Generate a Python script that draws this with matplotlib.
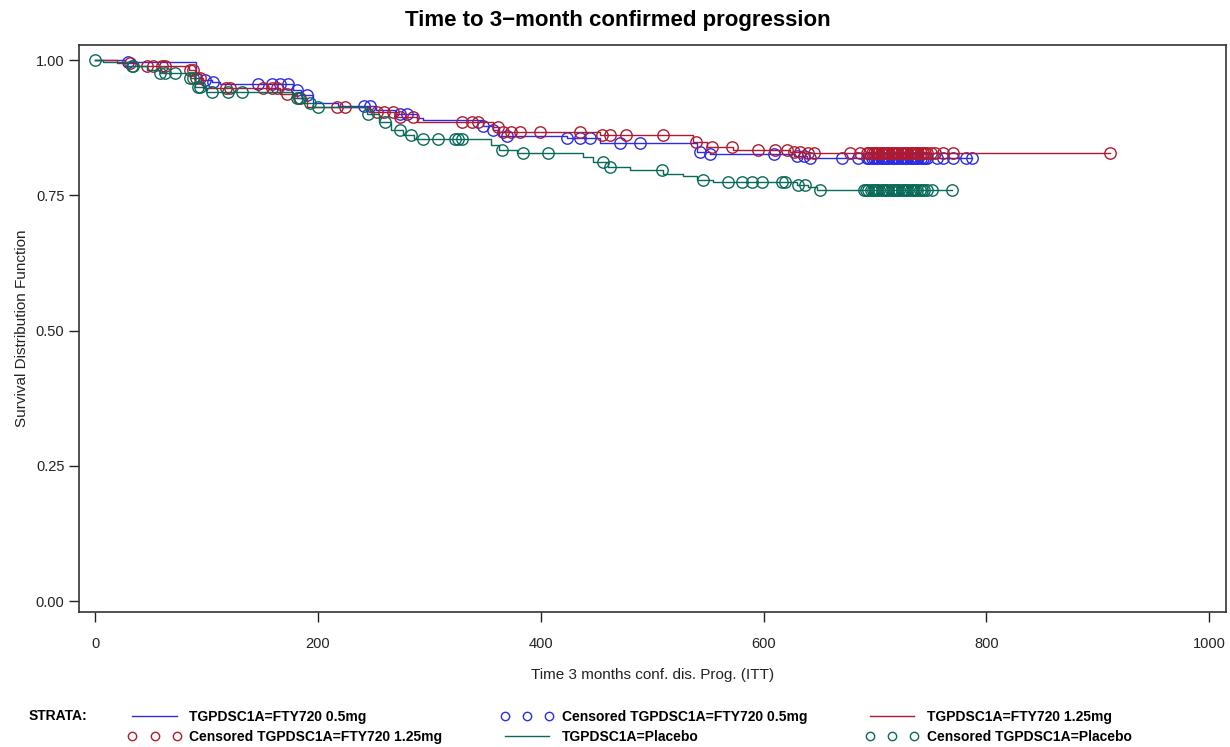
import numpy as np
import matplotlib
matplotlib.use("Agg")
import matplotlib.pyplot as plt
from matplotlib.lines import Line2D

plt.rcParams["font.family"] = ["Liberation Sans", "DejaVu Sans"]

# Kaplan-Meier step points (time, survival)
blue_t = [0, 27, 91, 95, 105, 112, 178, 185, 196, 218, 252, 270, 289, 294, 348, 357, 363, 424, 453, 540, 552, 627, 639]
blue_s = [1.0, 0.996, 0.975, 0.963, 0.959, 0.956, 0.945, 0.935, 0.920, 0.916, 0.907, 0.900, 0.893, 0.889,
          0.878, 0.870, 0.860, 0.856, 0.846, 0.830, 0.826, 0.822, 0.819]

red_t = [0, 20, 38, 84, 90, 97, 166, 181, 190, 247, 270, 289, 357, 363, 453, 537, 549, 573, 624, 636]
red_s = [1.0, 0.994, 0.989, 0.981, 0.967, 0.948, 0.938, 0.930, 0.913, 0.905, 0.895, 0.885, 0.876, 0.867,
         0.861, 0.848, 0.839, 0.834, 0.831, 0.828]

green_t = [0, 7, 29, 47, 58, 85, 90, 100, 178, 186, 196, 244, 255, 266, 276, 286, 355, 363, 379, 438, 447,
           460, 480, 510, 528, 540, 555, 630, 640, 648]
green_s = [1.0, 0.996, 0.989, 0.981, 0.976, 0.967, 0.950, 0.941, 0.930, 0.920, 0.913, 0.900, 0.885, 0.871,
           0.862, 0.855, 0.843, 0.834, 0.828, 0.821, 0.811, 0.802, 0.797, 0.790, 0.785, 0.778, 0.775,
           0.770, 0.765, 0.760]

# censoring times
blue_cens = [30, 99, 106, 146, 159, 166, 173, 181, 190, 241, 247, 274, 280, 348, 357, 370, 424, 435, 444,
             471, 489, 543, 552, 609, 630, 636, 642, 670, 685,
             693, 695, 697, 699, 701, 703, 705, 707, 709, 711, 713, 715, 717, 719, 721, 723, 725, 727, 729,
             731, 733, 735, 737, 739, 741, 743, 745, 747,
             756, 761, 770, 782, 787]
red_cens = [31, 47, 52, 60, 63, 85, 88, 91, 94, 118, 121, 151, 159, 163, 172, 184, 217, 224, 253, 259, 267,
            274, 285, 329, 338, 344, 362, 366, 373, 381, 399, 435, 455, 462, 477, 510, 539, 554, 572, 595,
            610, 621, 627, 633, 640, 645, 678, 687,
            693, 695, 697, 699, 701, 703, 705, 707, 709, 711, 713, 715, 717, 719, 721, 723, 725, 727, 729,
            731, 733, 735, 737, 739, 741, 743, 745, 747, 750,
            754, 761, 770, 911]
green_cens = [0, 33, 34, 58, 63, 72, 85, 88, 92, 94, 105, 119, 132, 181, 183, 193, 200, 245, 260, 274, 284,
              294, 308, 323, 326, 329, 365, 384, 407, 456, 462, 509, 546, 568, 581, 590, 599, 617, 619, 631,
              637, 651,
              690, 692, 694, 696, 698, 700, 702, 704, 706, 708, 710, 712, 714, 716, 718, 720, 722, 724, 726,
              728, 730, 732, 734, 736, 738, 740, 742, 744, 747,
              751, 769]

groups = [
    ("TGPDSC1A=FTY720 0.5mg", blue_t, blue_s, blue_cens, "#2b2be8"),
    ("TGPDSC1A=FTY720 1.25mg", red_t, red_s, red_cens, "#b01a2e"),
    ("TGPDSC1A=Placebo", green_t, green_s, green_cens, "#0a6a5a"),
]

fig = plt.figure(figsize=(12.3, 7.47), dpi=100)
ax = fig.add_axes([0.0642, 0.1807, 0.9325, 0.7591])

handles = {}
for name, t, s, cens, col in groups:
    t = np.array(t, dtype=float)
    s = np.array(s)
    cens = np.array(cens, dtype=float)
    end = max(t.max(), cens.max())
    tt = np.append(t, end)
    ss = np.append(s, s[-1])
    ax.step(tt, ss, where="post", color=col, lw=1.0)
    idx = np.searchsorted(t, cens, side="right") - 1
    ax.plot(cens, s[idx], ls="none", marker="o", ms=8.2, mfc="none", mec=col, mew=1.0)
    handles[name] = (Line2D([], [], color=col, lw=1.0),
                     Line2D([], [], ls="none", marker="o", ms=6, mfc="none", mec=col, mew=1.0))

ax.set_xlim(-14.4, 1015)
ax.set_ylim(-0.020, 1.028)
ax.set_xticks([0, 200, 400, 600, 800, 1000])
ax.set_yticks([0.0, 0.25, 0.50, 0.75, 1.00])
ax.set_yticklabels(["0.00", "0.25", "0.50", "0.75", "1.00"])
ax.tick_params(direction="out", length=7, width=1, labelsize=10.5, colors="#222222")
ax.tick_params(axis="x", pad=11)
for sp in ax.spines.values():
    sp.set_color("#333333")
    sp.set_linewidth(1.2)

ax.set_xlabel("Time 3 months conf. dis. Prog. (ITT)", fontsize=11, color="#222222", labelpad=12)
ax.set_ylabel("Survival Distribution Function", fontsize=11, color="#222222", labelpad=5)
fig.text(0.502, 0.973, "Time to 3\u2212month confirmed progression", ha="center", va="center",
         fontsize=16, fontweight="bold")

# legend
n1, n2, n3 = [g[0] for g in groups]
leg_handles = [handles[n1][0], handles[n2][1], handles[n1][1], handles[n3][0], handles[n2][0], handles[n3][1]]
leg_labels = [n1, "Censored " + n2, "Censored " + n1, n3, n2, "Censored " + n3]
fig.text(0.023, 0.042, "STRATA:", fontsize=10, fontweight="bold", va="center")
fig.legend(leg_handles, leg_labels, ncol=3, loc="center left", bbox_to_anchor=(0.094, 0.0265),
           frameon=False, numpoints=3, handlelength=3.8, handletextpad=0.6, columnspacing=4.2,
           labelspacing=0.45, prop={"weight": "bold", "size": 10})

fig.savefig("out.png", dpi=100)
